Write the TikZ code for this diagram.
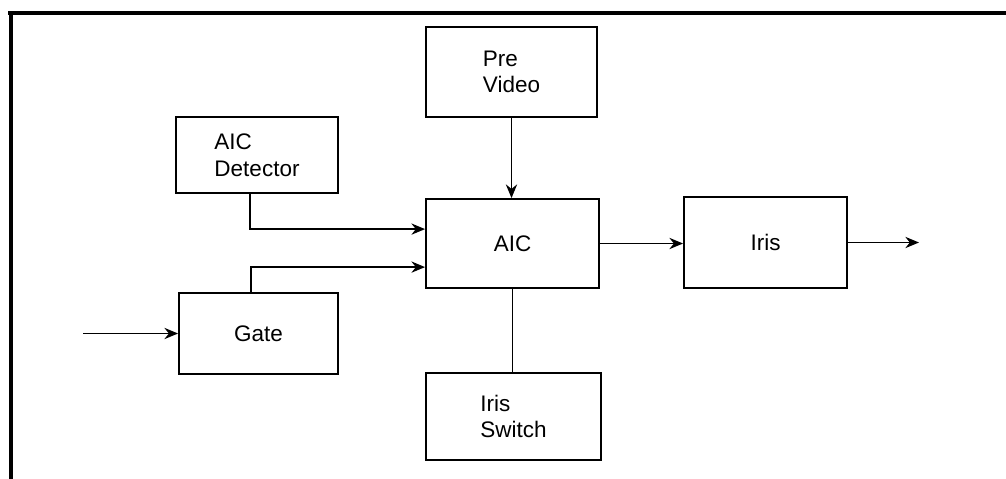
\documentclass[tikz,border=0pt]{standalone}
\usepackage{fontspec}
\setmainfont{Liberation Sans}
\usetikzlibrary{arrows.meta}

\begin{document}
\begin{tikzpicture}[x=0.025cm,y=-0.025cm]
\tikzset{
  blockbox/.style={rectangle,draw,line width=1.3pt,align=left,inner sep=2pt,font=\fontsize{16}{19}\selectfont},
  directed/.style={-{Stealth[length=3.4mm,width=2.8mm,inset=1.1mm]},line width=1.3pt},
  undirected/.style={line width=1.3pt},
  frameline/.style={line width=2.8pt}
}
\useasboundingbox (0,0) rectangle (1006,479);
\draw[frameline] (8,13) -- (1006,13);
\draw[frameline] (11,13) -- (11,479);
\node[blockbox,minimum width=4.275cm,minimum height=2.25cm] (n_pre) at (511.5,72) {Pre\\Video};
\node[blockbox,minimum width=4.05cm,minimum height=1.9cm] (n_det) at (257,155) {AIC\\Detector};
\node[blockbox,minimum width=4.325cm,minimum height=2.225cm] (n_aic) at (512.5,243.5) {AIC};
\node[blockbox,minimum width=3.975cm,minimum height=2.025cm] (n_gate) at (258.5,333.5) {Gate};
\node[blockbox,minimum width=4.075cm,minimum height=2.275cm] (n_iris) at (765.5,242.5) {Iris};
\node[blockbox,minimum width=4.375cm,minimum height=2.175cm] (n_sw) at (513.5,416.5) {Iris\\Switch};
\coordinate (c_in) at (83,333.5);
\coordinate (c_out) at (919,242.5);
\draw[directed] (n_pre.south) -- (n_pre.south |- n_aic.north);
\draw[directed] ([xshift=-0.18cm]n_det.south) |- ([yshift=0.36cm]n_aic.west);
\draw[directed] ([xshift=-0.19cm]n_gate.north) |- ([yshift=-0.59cm]n_aic.west);
\draw[directed] (c_in) -- (n_gate.west);
\draw[directed] (n_aic.east) -- (n_iris.west |- n_aic.east);
\draw[directed] (n_iris.east) -- (c_out);
\draw[undirected] (n_aic.south) -- (n_aic.south |- n_sw.north);
\end{tikzpicture}
\end{document}
